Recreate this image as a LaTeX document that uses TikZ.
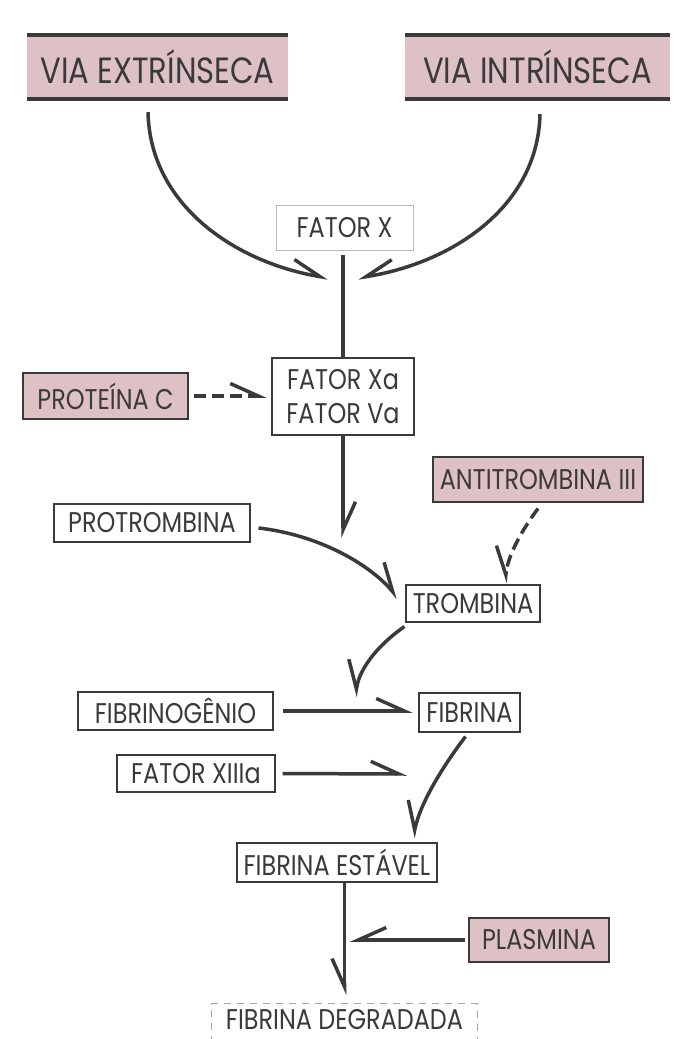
\documentclass[tikz,border=0pt]{standalone}
\usepackage{fontspec}
\setmainfont{Poppins}[FakeStretch=0.84]
\usetikzlibrary{arrows.meta,calc}
\definecolor{pinkbox}{RGB}{221,193,197}
\definecolor{ink}{RGB}{58,58,58}
\definecolor{lightframe}{RGB}{185,185,185}
\begin{document}
\begin{tikzpicture}[x=1pt,y=-1pt,
  lab/.style={font=\fontsize{28.5}{34}\selectfont, text=ink, inner sep=0pt, align=center},
  plainbox/.style={lab, draw=ink, line width=1.1pt, fill=white},
  pinknode/.style={lab, draw=ink, line width=1.1pt, fill=pinkbox},
  viabox/.style={lab, fill=pinkbox, font=\fontsize{36.5}{40}\selectfont},
  viabar/.style={draw=ink, line width=4pt},
  conn/.style={draw=ink, line width=3.5pt},
  tipL/.style={-{Straight Barb[harpoon, length=28pt, width=25pt]}},
  tipR/.style={-{Straight Barb[harpoon, swap, length=28pt, width=25pt]}},
  dashconn/.style={conn, dash pattern=on 12pt off 6pt},
  dashframe/.style={draw=gray!70, line width=1pt, dash pattern=on 7pt off 6pt},
]
\useasboundingbox (0,0) rectangle (690,1039);
\fill[white] (0,0) rectangle (690,1039);

% nodes
\node[viabox, minimum width=261pt, minimum height=64pt] (ve) at (157.5,67) {VIA EXTRÍNSECA};
\node[viabox, minimum width=265pt, minimum height=64pt] (vi) at (537.5,67) {VIA INTRÍNSECA};
\draw[viabar] (ve.north west) -- (ve.north east);
\draw[viabar] (ve.south west) -- (ve.south east);
\draw[viabar] (vi.north west) -- (vi.north east);
\draw[viabar] (vi.south west) -- (vi.south east);

\node[lab, draw=lightframe, line width=0.8pt, minimum width=137pt, minimum height=45pt] (fx) at (344.5,227.5) {FATOR X};
\node[plainbox, minimum width=142pt, minimum height=77pt] (fxa) at (343,396.5) {FATOR Xa\\FATOR Va};
\node[pinknode, minimum width=165pt, minimum height=46pt] (pc) at (105.5,396) {PROTEÍNA C};
\node[pinknode, minimum width=210pt, minimum height=45pt] (at) at (538,479.5) {ANTITROMBINA III};
\node[plainbox, minimum width=196pt, minimum height=38pt] (pt) at (152,523) {PROTROMBINA};
\node[plainbox, minimum width=134pt, minimum height=37pt] (tr) at (473,603.5) {TROMBINA};
\node[plainbox, minimum width=195pt, minimum height=38pt] (fg) at (175.5,711) {FIBRINOGÊNIO};
\node[plainbox, minimum width=101pt, minimum height=39pt] (fb) at (469.5,712.5) {FIBRINA};
\node[plainbox, minimum width=158pt, minimum height=37pt] (f13) at (196,773.5) {FATOR XIIIa};
\node[plainbox, minimum width=200pt, minimum height=39pt] (fe) at (337,862.5) {FIBRINA ESTÁVEL};
\node[pinknode, minimum width=140pt, minimum height=44pt] (pl) at (539,940) {PLASMINA};
\node[lab, minimum width=265pt, text height=20pt, text depth=0pt] (fd) at (344.5,1019) {FIBRINA DEGRADADA};
\draw[dashframe] ($(fd.south west)+(0,14)$) -- ($(fd.north west)+(0,-5)$) -- ($(fd.north east)+(0,-5)$) -- ($(fd.south east)+(0,14)$);

% free ends
\coordinate (c1) at (328,278);
\coordinate (c2) at (358,278);
\coordinate (c3) at (343,538);
\coordinate (c4) at (398,598);
\coordinate (c5) at (355,697);
\coordinate (c6) at (407,774);
\coordinate (c7) at (350,940);
\coordinate (c8) at (413,838);
\coordinate (c9) at (505,583);

% connectors
\draw[conn, tipL] ([xshift=-9.5pt,yshift=-13pt]ve.south) .. controls (150,205) and (235,262) .. (c1);
\draw[conn, tipR] ([xshift=2.5pt,yshift=-15pt]vi.south) .. controls (538,205) and (455,262) .. (c2);
\draw[conn, shorten <=5pt] (fxa.north |- fx.south) -- (fxa.north);
\draw[dashconn, tipL, shorten <=5pt, shorten >=5pt] (pc.east) -- (pc.east -| fxa.west);
\draw[conn, tipL] (fxa.south) -- (c3);
\draw[conn, tipL] ([xshift=8pt,yshift=-5pt]pt.east) .. controls (320,535) and (370,565) .. (c4);
\draw[dashconn, tipR] ([yshift=-6pt]at.south) .. controls (522,530) and (508,555) .. (c9);
\draw[conn, tipR] ([xshift=-1pt,yshift=-4pt]tr.south west) .. controls (378,645) and (360,668) .. (c5);
\draw[conn, tipL, shorten <=9pt, shorten >=6pt] (fg.east) -- (fg.east -| fb.west);
\draw[conn, tipL, shorten <=7pt] (f13.east) -- (c6);
\draw[conn, tipR] ([xshift=-4pt,yshift=-4pt]fb.south) .. controls (440,770) and (420,805) .. (c8);
\draw[conn, tipR, shorten >=14pt] (fe.south -| fd.north) -- (fd.north);
\draw[conn, tipR, shorten <=3pt] (pl.west) -- (c7);
\end{tikzpicture}
\end{document}
